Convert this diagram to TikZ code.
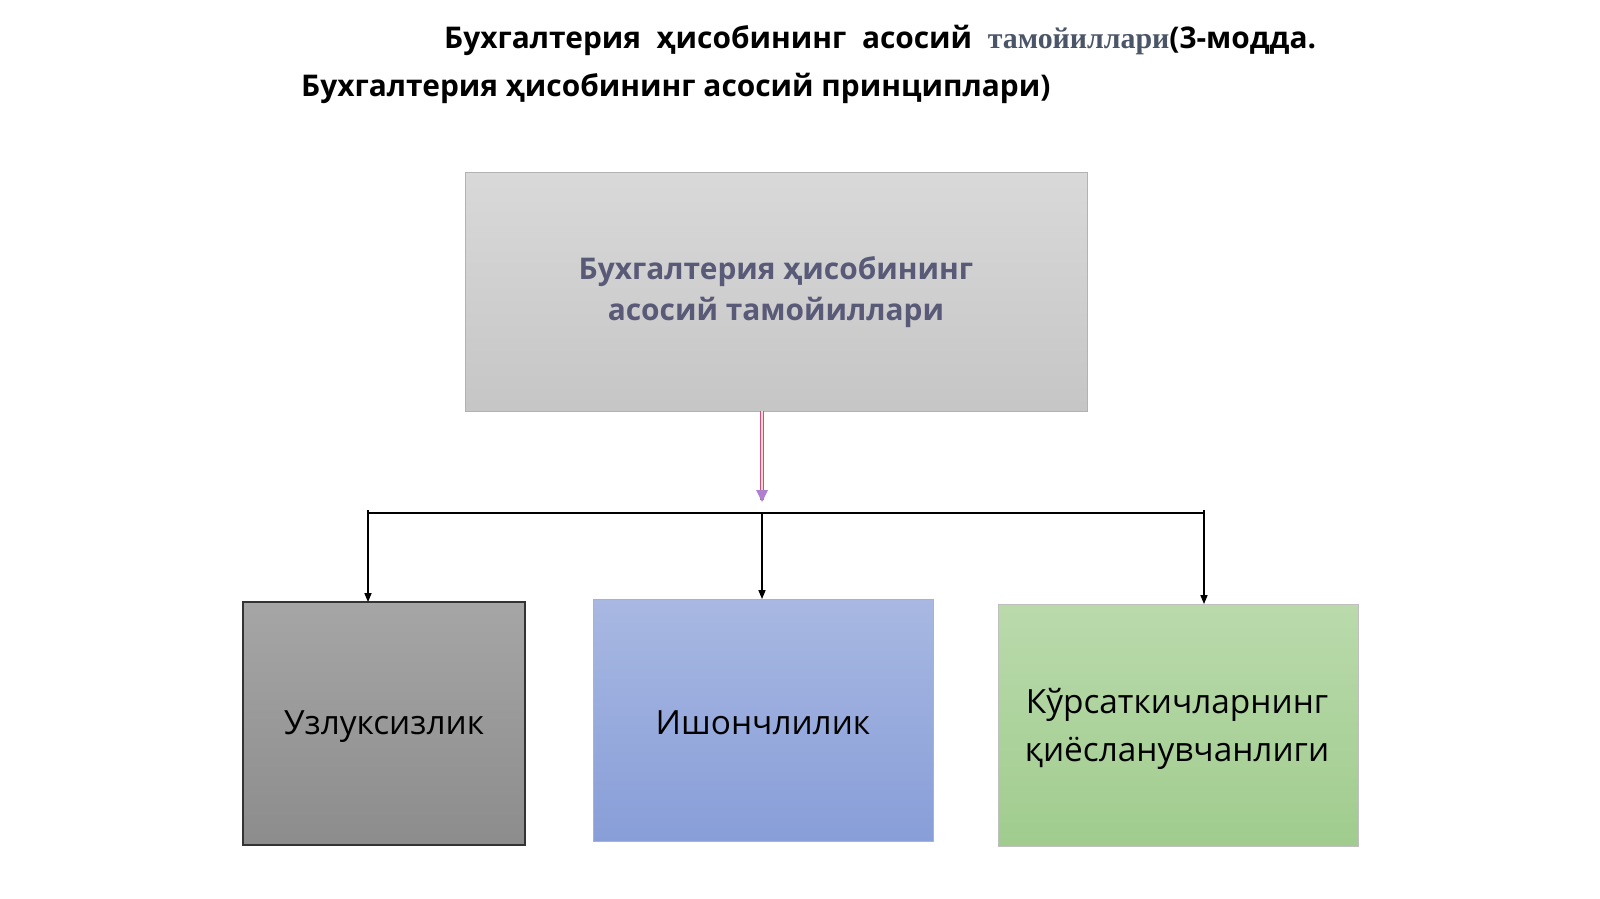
\documentclass[tikz,border=0pt]{standalone}
\usepackage{fontspec}
\setmainfont{Open Sans}
\newfontfamily\serifb{Liberation Serif}
\usetikzlibrary{arrows.meta}
\begin{document}
\begin{tikzpicture}[x=0.02cm,y=-0.02cm,
  box/.style={draw=black!70,line width=0.6pt,minimum width=#1*0.02cm,anchor=north west,inner sep=0},
  lbl/.style={align=center,font=\fontsize{19}{27}\selectfont},
  conn/.style={-{Triangle[length=5pt,width=4pt]},line width=0.6pt}]
\useasboundingbox (0,0) rectangle (1600,899);
\node[anchor=west,font=\fontsize{17}{22}\selectfont\bfseries] (t1) at (438,40) {Бухгалтерия \ ҳисобининг \ асосий \ {\serifb\color[HTML]{4B5568}тамойиллари}(3-модда.};
\node[anchor=west,font=\fontsize{17}{22}\selectfont\bfseries] (t2) at (295,88) {Бухгалтерия ҳисобининг асосий принциплари)};
% top box
\shade[top color=gray!30,bottom color=gray!45] (465,172) rectangle (1087,411);
\draw[gray!60] (465,172) rectangle (1087,411);
\node[lbl,font=\fontsize{17}{23}\selectfont\bfseries,text=black!60!blue!30!gray] (top) at (776,292) {Бухгалтерия ҳисобининг\\асосий тамойиллари};
\coordinate (a1) at (762,411);
\coordinate (a2) at (762,500);
\draw[line width=2.5pt,color=purple!70] (a1) -- (a2);
\draw[line width=1.2pt,color=pink!60] (a1) -- (a2);
\fill[purple!50!blue!50] (756,490) -- (768,490) -- (762,502) -- cycle;
% bus
\coordinate (b0) at (368,513);
\coordinate (b1) at (762,513);
\coordinate (b2) at (1204,513);
\draw[line width=0.6pt] (368,510) -- (b0) -- (b2) -- (1204,510);
% bottom boxes
\shade[top color=gray!70,bottom color=gray!110!black] (243,602) rectangle (525,845);
\draw[black!80,line width=0.8pt] (243,602) rectangle (525,845);
\shade[top color={rgb,255:red,168;green,184;blue,226},bottom color={rgb,255:red,136;green,158;blue,216}] (593,599) rectangle (933,841);
\draw[gray!60] (593,599) rectangle (933,841);
\shade[top color={rgb,255:red,186;green,218;blue,172},bottom color={rgb,255:red,160;green,204;blue,142}] (998,604) rectangle (1358,846);
\draw[gray!50] (998,604) rectangle (1358,846);
\coordinate (g) at (368,602);
\coordinate (bl) at (762,599);
\coordinate (gr) at (1204,604);
\draw[conn] (b0) -- (g);
\draw[conn] (b1) -- (bl);
\draw[conn] (b2) -- (gr);
\node[lbl] (n1) at (384,727) {Узлуксизлик};
\node[lbl] (n2) at (763,723) {Ишончлилик};
\node[lbl] (n3) at (1177,729) {Кўрсаткичларнинг\\қиёсланувчанлиги};
\end{tikzpicture}
\end{document}
